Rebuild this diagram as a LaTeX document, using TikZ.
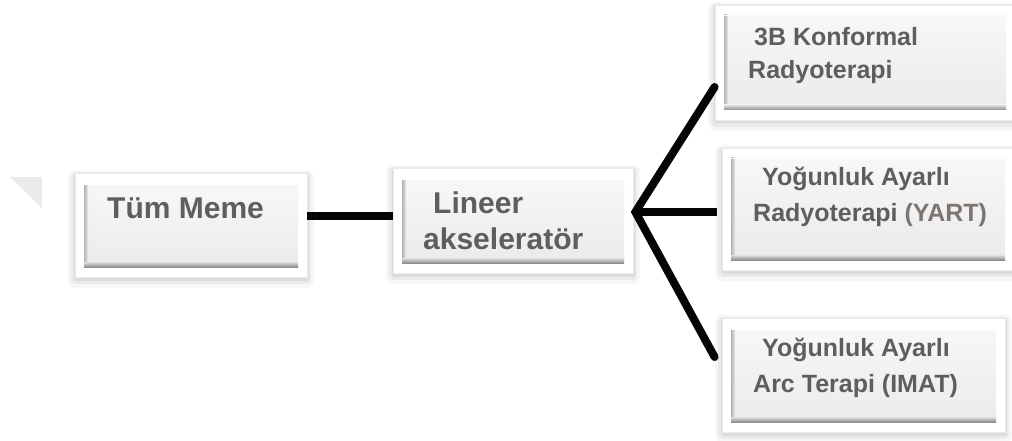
\documentclass[tikz,border=0pt]{standalone}
\usepackage{fontspec}
\setmainfont{Liberation Sans}
\usetikzlibrary{calc}
\definecolor{txtgrey}{HTML}{5E5E5E}
\definecolor{yartcol}{HTML}{7E7570}
\definecolor{linecol}{HTML}{050505}
\tikzset{
  bevelbox/.style={rectangle, inner sep=0pt, fill=white, draw=black!8, line width=0.8pt,
    preaction={draw=black, draw opacity=0.03, line width=14pt, line join=round, transform canvas={yshift=-4pt}},
    preaction={draw=black, draw opacity=0.05, line width=8pt, line join=round, transform canvas={yshift=-3pt}},
    preaction={draw=black, draw opacity=0.06, line width=3pt, line join=round, transform canvas={yshift=-2pt}},
    path picture={
      \path (path picture bounding box.south west) ++(9pt,10pt) coordinate (isw);
      \path (path picture bounding box.north east) ++(-9pt,-10pt) coordinate (ine);
      \shade[top color=black!3, bottom color=black!8] (isw) rectangle (ine);
      \shade[left color=black!30, right color=black!8] (isw) rectangle ([xshift=4pt]isw |- ine);
      \draw[white, line width=1.5pt] ([yshift=-0.75pt]ine) -- ([yshift=-0.75pt]isw |- ine);
      \shade[top color=black!12, bottom color=black!45] (isw) rectangle ([yshift=5pt]ine |- isw);
    }},
  bigtxt/.style={anchor=base west, inner sep=0pt, text=txtgrey, font=\fontsize{30}{36}\selectfont\bfseries},
  smalltxt/.style={anchor=base west, inner sep=0pt, text=txtgrey, font=\fontsize{25}{30}\selectfont\bfseries},
  conn/.style={draw=linecol, line width=8pt},
}
\begin{document}
\begin{tikzpicture}[x=1pt,y=-1pt]
\useasboundingbox (0,0) rectangle (1012,441);
\fill[white] (0,0) rectangle (1012,441);
% faint watermark triangle
\fill[black!8] (10,177) -- (42,177) -- (42,208) -- cycle;

% boxes
\node[bevelbox, minimum width=232pt, minimum height=104pt] (tum) at (191,225) {};
\node[bevelbox, minimum width=240pt, minimum height=105pt] (lin) at (513,220.5) {};
\node[bevelbox, minimum width=300pt, minimum height=115pt] (top) at (865,62.5) {};
\node[bevelbox, minimum width=292pt, minimum height=122pt] (mid) at (868,209) {};
\node[bevelbox, minimum width=283pt, minimum height=114pt] (bot) at (863.5,375) {};

% texts
\node[bigtxt] (t1) at (107,218) {Tüm Meme};
\node[bigtxt] (t2) at (433,213) {Lineer};
\node[bigtxt] (t3) at (423,249) {akseleratör};
\node[smalltxt] (t4) at (754,46) {3B Konformal};
\node[smalltxt] (t5) at (748,79) {Radyoterapi};
\node[smalltxt] (t6) at (762,185) {Yoğunluk Ayarlı};
\node[smalltxt] (t7) at (753,221) {Radyoterapi \textcolor{yartcol}{(YART)}};
\node[smalltxt] (t8) at (762,356) {Yoğunluk Ayarlı};
\node[smalltxt] (t9) at (753,392) {Arc Terapi (IMAT)};

% connectors
\draw[conn] ([yshift=9pt]tum.east) -- ([yshift=4.5pt]lin.west);
\coordinate (br) at ([shift={(2pt,8.5pt)}]lin.east);
\draw[conn, line join=miter, line cap=round] ([yshift=-24.5pt]top.west) -- (br) -- ([shift={(-7pt,18pt)}]bot.west);
\draw[conn] (br) -- ([shift={(-5pt,-3pt)}]mid.west);
\end{tikzpicture}
\end{document}
